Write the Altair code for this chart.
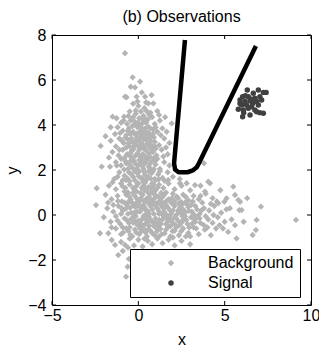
import altair as alt
import pandas as pd

title_text = "(b) Observations"
x_ticks = [-5, 0, 5, 10]
y_ticks = [-4, -2, 0, 2, 4, 6, 8]
classes = ["Background", "Signal"]
class_colors = ["#b4b4b4", "#404040"]
class_shapes = ["diamond", "circle"]

# Background observations (x, y)
bg_upper = [
    (-0.77, 7.19), (-0.33, 6.12), (0.10, 5.93), (-0.44, 5.70), (-0.19, 5.67), (-0.77, 5.26),
    (-0.68, 5.23), (-0.10, 5.26), (0.39, 5.26), (0.77, 5.33), (0.20, 5.45),
    (0.58, 4.96), (0.87, 4.96), (-0.30, 4.95), (0.00, 4.85), (0.35, 4.75), (-0.50, 4.60),
    (0.15, 4.60), (0.70, 4.55), (-0.15, 4.50), (1.10, 4.62), (0.45, 5.00), (-0.05, 5.05),
    (-1.49, 4.37), (-1.26, 4.30), (-0.83, 4.37), (-0.58, 4.40), (-0.30, 4.35), (0.05, 4.30),
    (0.30, 4.40), (0.55, 4.25), (0.80, 4.35), (-1.00, 4.10), (-0.65, 4.05), (-0.20, 4.15),
    (0.20, 4.05), (0.45, 4.10), (0.95, 4.05), (1.25, 4.20), (-0.45, 4.20), (0.65, 4.45),
]
bg_mid_high = [
    (-1.20, 3.90), (-0.90, 3.75), (-0.55, 3.85), (-0.30, 3.70), (-0.05, 3.90), (0.15, 3.75),
    (0.40, 3.85), (0.60, 3.65), (0.85, 3.80), (1.10, 3.70), (1.39, 3.85), (1.64, 3.70),
    (1.93, 4.07), (-1.35, 3.60), (-0.70, 3.55), (-0.15, 3.55), (0.25, 3.60), (0.75, 3.50),
    (1.30, 3.55), (0.05, 3.65), (-0.45, 3.60), (0.50, 3.55),
    (-2.18, 3.07), (-1.60, 3.30), (-1.10, 3.40), (-0.85, 3.20), (-0.60, 3.35), (-0.35, 3.25),
    (-0.10, 3.40), (0.10, 3.20), (0.30, 3.35), (0.50, 3.15), (0.70, 3.30), (0.95, 3.25),
    (1.20, 3.10), (1.50, 3.40), (1.80, 3.20), (-1.30, 3.05), (-0.50, 3.05), (0.00, 3.05),
    (0.35, 3.00), (0.80, 3.05), (-0.20, 3.15), (0.60, 3.45), (0.20, 3.50), (-0.75, 3.45),
    (-1.50, 2.80), (-1.15, 2.65), (-0.90, 2.90), (-0.65, 2.70), (-0.40, 2.85), (-0.15, 2.65),
    (0.05, 2.90), (0.25, 2.70), (0.45, 2.85), (0.65, 2.60), (0.85, 2.80), (1.05, 2.65),
    (1.35, 2.90), (1.70, 2.70), (-0.30, 2.55), (0.15, 2.55), (0.55, 2.50), (-0.80, 2.55),
    (1.00, 2.95), (0.35, 2.95), (-0.05, 2.75), (0.75, 2.90), (-1.00, 2.50),
]
bg_mid_low = [
    (-2.12, 2.15), (-1.64, 2.15), (-1.30, 2.35), (-1.00, 2.20), (-0.75, 2.40), (-0.50, 2.25),
    (-0.25, 2.40), (0.00, 2.20), (0.20, 2.45), (0.40, 2.30), (0.60, 2.15), (0.80, 2.40),
    (1.00, 2.25), (1.25, 2.05), (1.50, 2.35), (-0.60, 2.05), (-0.10, 2.05), (0.30, 2.05),
    (0.90, 2.05), (0.10, 2.30), (0.50, 2.45), (-0.35, 2.10), (1.80, 2.20), (3.80, 2.30),
    (-1.10, 1.90), (-0.80, 1.75), (-0.55, 1.90), (-0.30, 1.70), (-0.05, 1.85), (0.15, 1.65),
    (0.35, 1.90), (0.55, 1.70), (0.75, 1.85), (0.95, 1.60), (1.15, 1.80), (1.40, 1.65),
    (1.70, 1.90), (2.00, 1.70), (-1.40, 1.60), (-0.70, 1.55), (-0.20, 1.55), (0.45, 1.55),
    (1.25, 1.95), (0.05, 1.95), (-0.90, 1.55), (0.85, 1.95), (2.40, 1.60), (1.73, 1.56),
    (-2.41, 1.19), (-1.70, 1.30), (-1.30, 1.15), (-1.00, 1.40), (-0.75, 1.20), (-0.50, 1.35),
    (-0.25, 1.15), (0.00, 1.40), (0.20, 1.20), (0.40, 1.45), (0.60, 1.25), (0.80, 1.40),
    (1.00, 1.10), (1.20, 1.35), (1.45, 1.20), (1.75, 1.40), (2.10, 1.15), (2.50, 1.30),
    (3.00, 1.10), (4.05, 1.48), (4.15, 1.41), (3.60, 1.30), (-0.10, 1.05), (0.50, 1.05),
    (1.60, 1.00), (-0.60, 1.00), (0.30, 1.30), (0.90, 1.20), (-1.50, 1.45), (2.41, 1.41),
    (2.80, 1.41), (3.28, 1.33), (3.86, 1.04), (5.50, 1.26),
]
bg_zero_high = [
    (-1.90, 0.90), (-1.55, 0.70), (-1.20, 0.85), (-0.95, 0.60), (-0.70, 0.90), (-0.45, 0.70),
    (-0.20, 0.85), (0.05, 0.60), (0.25, 0.90), (0.45, 0.70), (0.65, 0.95), (0.85, 0.60),
    (1.05, 0.85), (1.25, 0.65), (1.50, 0.90), (1.75, 0.70), (2.00, 0.95), (2.30, 0.75),
    (2.60, 0.90), (2.90, 0.65), (3.20, 0.85), (3.50, 0.70), (3.90, 0.95), (4.30, 0.75),
    (4.63, 0.52), (4.98, 0.59), (5.60, 0.89), (5.79, 0.67), (0.15, 0.75), (-0.35, 0.55),
    (0.55, 0.55), (1.40, 0.55), (2.10, 0.60), (2.70, 0.55), (-0.80, 0.55), (0.95, 0.75),
    (1.90, 0.55), (5.11, 0.74), (5.89, 0.59),
    (-2.45, 0.44), (-1.80, 0.30), (-1.45, 0.15), (-1.15, 0.40), (-0.90, 0.20), (-0.65, 0.45),
    (-0.40, 0.10), (-0.15, 0.35), (0.10, 0.15), (0.30, 0.45), (0.50, 0.20), (0.70, 0.40),
    (0.90, 0.05), (1.10, 0.30), (1.30, 0.45), (1.50, 0.15), (1.70, 0.35), (1.90, 0.05),
    (2.10, 0.40), (2.30, 0.20), (2.50, 0.45), (2.70, 0.10), (2.90, 0.35), (3.10, 0.15),
    (3.30, 0.40), (3.55, 0.05), (3.80, 0.30), (4.10, 0.20), (4.40, 0.40), (4.80, 0.10),
    (5.85, 0.22), (7.10, 0.37), (5.30, 0.30), (-0.60, 0.05), (0.00, 0.50), (0.80, 0.25),
    (1.20, 0.05), (1.60, 0.45), (2.00, 0.20), (2.60, 0.25), (3.40, 0.25), (-1.00, 0.05),
    (0.40, 0.00), (2.80, 0.48), (5.98, 0.22),
]
bg_zero_low = [
    (-2.00, -0.10), (-1.60, -0.30), (-1.30, -0.05), (-1.05, -0.40), (-0.80, -0.15), (-0.55, -0.35),
    (-0.30, -0.10), (-0.05, -0.45), (0.20, -0.20), (0.40, -0.40), (0.60, -0.05), (0.80, -0.30),
    (1.00, -0.15), (1.20, -0.45), (1.40, -0.20), (1.60, -0.40), (1.80, -0.10), (2.00, -0.35),
    (2.20, -0.15), (2.40, -0.45), (2.60, -0.20), (2.85, -0.40), (3.05, -0.10), (3.30, -0.30),
    (3.55, -0.15), (3.80, -0.45), (4.05, -0.20), (4.30, -0.35), (4.60, -0.10), (5.00, -0.30),
    (5.40, -0.20), (6.85, -0.22), (9.13, -0.22), (0.00, -0.25), (0.50, -0.25), (1.10, -0.35),
    (1.90, -0.25), (2.70, -0.05), (-0.15, -0.05), (0.30, -0.05), (3.90, -0.05),
    (-2.22, -0.81), (-1.74, -0.81), (-1.30, -0.60), (-1.00, -0.85), (-0.70, -0.60), (-0.45, -0.90),
    (-0.20, -0.65), (0.05, -0.85), (0.30, -0.60), (0.50, -0.95), (0.70, -0.70), (0.95, -0.90),
    (1.15, -0.60), (1.35, -0.85), (1.60, -0.65), (1.85, -0.95), (2.10, -0.70), (2.35, -0.90),
    (2.60, -0.60), (2.90, -0.80), (3.20, -0.55), (3.50, -0.85), (3.85, -0.65), (4.20, -0.90),
    (4.50, -0.60), (6.81, -0.67), (6.62, -0.89), (5.20, -0.75), (-0.90, -0.55), (0.20, -0.50),
    (1.00, -0.55), (2.20, -0.55), (2.75, -0.95),
    (-1.54, -1.11), (-1.35, -1.33), (-0.77, -1.33), (-1.00, -1.20), (-0.50, -1.05), (-0.25, -1.35),
    (0.00, -1.10), (0.25, -1.40), (0.55, -1.15), (0.80, -1.30), (1.10, -1.05), (1.40, -1.25),
    (1.75, -1.10), (2.10, -1.35), (2.50, -1.15), (3.00, -1.30), (5.69, -1.04), (-0.60, -1.45),
    (-1.16, -1.78), (-0.71, -2.74), (-0.62, -2.30), (-0.90, -1.60), (-0.55, -1.95),
]
bg_core_vertical = [
    (0.12, 3.95), (0.32, 3.62), (-0.12, 3.32), (0.52, 3.28), (0.18, 2.98), (-0.28, 2.92),
    (0.62, 2.72), (0.08, 2.62), (-0.48, 2.62), (0.42, 2.58), (0.22, 2.18), (-0.18, 2.28),
    (0.68, 2.28), (0.02, 1.72), (0.38, 1.78), (-0.42, 1.82), (0.72, 1.62), (0.28, 1.48),
    (-0.12, 1.28), (0.48, 1.18), (0.12, 0.98), (-0.32, 0.98), (0.78, 1.02), (0.62, 0.82),
    (-0.08, 0.72), (0.34, 0.62), (-0.52, 0.82), (0.92, 0.92), (1.12, 1.22), (1.32, 0.98),
    (-0.62, 1.62), (-0.38, 2.48), (0.88, 2.52), (0.58, 3.92), (-0.22, 4.02), (0.28, 4.22),
    (-0.08, 3.62), (0.72, 3.12), (-0.58, 3.18), (0.98, 2.42), (1.18, 1.58), (-0.82, 2.02),
    (-0.92, 1.28), (1.52, 1.52), (0.45, 3.70), (0.10, 3.45), (-0.40, 3.40), (0.85, 3.60),
    (-0.95, 3.30), (-0.70, 3.00), (-0.45, 2.75), (-0.25, 3.05), (0.00, 3.30), (0.25, 3.15),
    (0.45, 3.45), (0.65, 3.00), (0.90, 3.45), (-0.60, 3.75), (-0.35, 3.95), (0.20, 3.85),
    (0.70, 3.85), (1.00, 3.90), (-0.85, 4.20), (0.00, 4.10), (0.35, 4.30), (-0.15, 4.65),
    (0.50, 4.60), (-1.10, 2.90), (-0.70, 2.30), (-0.45, 2.40), (0.05, 2.45), (0.35, 2.40),
    (0.70, 2.05), (1.10, 2.50), (-0.20, 1.95), (0.25, 1.60), (0.60, 1.95), (-0.50, 1.50),
    (-0.05, 1.40), (0.90, 1.35), (-0.80, 1.05), (0.35, 1.10), (0.70, 1.20), (1.00, 1.55),
    (-0.30, 1.20), (-1.20, 1.70), (-1.25, 2.20), (-1.05, 3.65), (0.95, 3.05), (1.45, 2.60),
    (1.60, 3.00), (-1.70, 2.55), (-1.90, 3.50), (-1.60, 3.90), (1.55, 4.35), (1.20, 4.45),
]
bg_core_horizontal = [
    (-0.72, 0.28), (-0.48, 0.32), (-0.22, 0.12), (0.18, 0.28), (0.42, 0.22), (0.62, 0.08),
    (0.98, 0.42), (1.18, 0.18), (1.42, 0.32), (1.62, 0.02), (1.82, 0.22), (2.02, 0.48),
    (2.22, 0.02), (2.42, 0.32), (2.62, 0.08), (2.92, 0.18), (3.22, 0.02), (-0.68, -0.22),
    (-0.42, -0.18), (-0.18, -0.28), (0.12, -0.38), (0.38, -0.12), (0.68, -0.18), (0.88, -0.48),
    (1.22, -0.22), (1.48, -0.08), (1.72, -0.28), (2.08, -0.12), (2.32, -0.28), (2.52, -0.32),
    (2.78, -0.22), (3.12, -0.38), (3.42, -0.08), (-0.88, -0.78), (-0.58, -0.72), (-0.12, -0.78),
    (0.18, -0.72), (0.42, -0.78), (0.62, -0.48), (0.82, -0.82), (1.08, -0.72), (1.28, -0.62),
    (1.52, -0.82), (1.72, -0.52), (1.98, -0.72), (2.48, -0.72), (-1.18, 0.62), (-0.28, 0.42),
    (0.08, 0.38), (0.72, 0.68), (1.08, 0.52), (1.62, 0.62), (1.38, 0.78), (2.22, 0.82),
    (2.48, 0.58), (3.05, 0.45), (3.70, 0.55), (4.00, -0.55), (3.65, 0.20), (-1.20, -0.25),
    (-0.95, 0.30), (4.55, 0.60), (5.10, 0.25), (3.35, -0.60),
    (-0.50, -0.55), (-0.30, -0.35), (0.10, -0.60), (0.55, -0.65), (0.95, -0.35), (1.30, -0.40),
    (1.65, -0.15), (2.15, -0.45), (2.55, -0.05), (2.95, -0.55), (3.25, -0.20), (3.60, -0.35),
    (-0.55, 0.60), (-0.10, 0.55), (0.35, 0.35), (0.75, 0.50), (1.20, 0.80), (1.55, 0.35),
    (1.95, 0.75), (2.35, 0.50), (2.75, 0.80), (3.15, 0.60), (3.60, 0.85), (4.20, 0.50),
    (4.70, -0.45), (3.00, -0.95), (2.00, -1.00), (1.20, -0.95), (0.35, -1.05), (-0.35, -0.95),
    (-1.45, 0.45), (-1.55, -0.55), (-1.75, 0.55), (-0.05, 0.15), (0.60, -0.30), (1.35, 0.05),
    (1.85, -0.50), (2.45, 0.10), (4.35, 0.00), (4.90, -0.60), (5.60, -0.45), (6.10, -0.30),
    (6.30, 0.75), (4.75, 1.10),
]

# Signal observations
sig_x = [6.31, 6.66, 6.95, 7.24, 6.04, 6.37, 6.75, 7.04, 5.89, 6.18, 6.47, 6.85, 7.14, 5.98,
         6.27, 6.56, 6.95, 5.79, 6.08, 6.37, 6.75, 7.04, 7.24, 6.04, 6.47, 6.85, 5.89, 6.62,
         6.20, 6.55, 7.40, 6.10]
sig_y = [5.56, 5.41, 5.56, 5.45, 5.26, 5.26, 5.19, 5.26, 5.11, 5.04, 5.08, 5.04, 5.11, 4.89,
         4.89, 4.81, 4.89, 4.70, 4.67, 4.74, 4.67, 4.55, 4.52, 4.37, 4.44, 4.59, 4.96, 4.96,
         5.30, 5.15, 5.45, 4.55]

# Decision boundary
bnd_x = [2.70, 2.07, 2.13, 2.33, 2.85, 3.15, 3.38, 3.51, 6.81]
bnd_y = [7.78, 2.30, 2.02, 1.90, 1.90, 1.98, 2.12, 2.30, 7.51]

bg = bg_upper + bg_mid_high + bg_mid_low + bg_zero_high + bg_zero_low + bg_core_vertical + bg_core_horizontal
df_pts = pd.DataFrame({
    "x": [p[0] for p in bg] + sig_x,
    "y": [p[1] for p in bg] + sig_y,
    "cls": [classes[0]] * len(bg) + [classes[1]] * len(sig_x),
})
df_bnd = pd.DataFrame({"x": bnd_x, "y": bnd_y, "i": list(range(len(bnd_x)))})
df_xt = pd.DataFrame({"x": x_ticks})
df_yt = pd.DataFrame({"y": y_ticks})

W, H = 259, 270
FONT = "Liberation Sans"
xscale = alt.Scale(domain=[-5, 10], nice=False, zero=False)
yscale = alt.Scale(domain=[-4, 8], nice=False, zero=False)

leg = alt.Legend(title=None, orient="none", legendX=78, legendY=214,
                 labelExpr="datum.label + '\u00a0\u00a0\u00a0'")

pts = alt.Chart(df_pts).mark_point(filled=True, opacity=1, strokeWidth=0).encode(
    x=alt.X("x:Q", scale=xscale, axis=alt.Axis(values=x_ticks, title="x")),
    y=alt.Y("y:Q", scale=yscale, axis=alt.Axis(values=y_ticks, title="y")),
    shape=alt.Shape("cls:N", scale=alt.Scale(domain=classes, range=class_shapes), legend=leg),
    color=alt.Color("cls:N", scale=alt.Scale(domain=classes, range=class_colors), legend=leg),
    size=alt.Size("cls:N", scale=alt.Scale(domain=classes, range=[40, 30]), legend=None),
)

line = alt.Chart(df_bnd).mark_line(color="black", strokeWidth=4.5, strokeJoin="round").encode(
    x=alt.X("x:Q", scale=xscale), y=alt.Y("y:Q", scale=yscale), order="i:Q"
)

tb = alt.Chart(df_xt).mark_rule(color="black").encode(x=alt.X("x:Q", scale=xscale), y=alt.value(H), y2=alt.value(H - 4))
tt = alt.Chart(df_xt).mark_rule(color="black").encode(x=alt.X("x:Q", scale=xscale), y=alt.value(0), y2=alt.value(4))
tl = alt.Chart(df_yt).mark_rule(color="black").encode(y=alt.Y("y:Q", scale=yscale), x=alt.value(0), x2=alt.value(4))
tr = alt.Chart(df_yt).mark_rule(color="black").encode(y=alt.Y("y:Q", scale=yscale), x=alt.value(W), x2=alt.value(W - 4))

chart = alt.layer(pts, line, tb, tt, tl, tr).properties(
    width=W, height=H,
    title=alt.TitleParams(title_text, fontSize=16, font=FONT, fontWeight="normal", offset=2,
                          anchor="middle", color="black", frame="group"),
    autosize=alt.AutoSizeParams(type="none"),
    padding={"left": 44, "top": 27, "right": 8, "bottom": 45},
).configure_view(
    stroke="black", strokeWidth=1
).configure_axis(
    domain=False, ticks=False, grid=False, labelFlush=False,
    labelFont=FONT, labelFontSize=16, labelColor="black",
    titleFont=FONT, titleFontSize=16, titleFontWeight="normal", titleColor="black",
).configure_axisX(
    labelPadding=2, titlePadding=8
).configure_axisY(
    labelPadding=6, titlePadding=7
).configure_legend(
    fillColor="white", strokeColor="black", padding=6, rowPadding=4,
    symbolOffset=27, labelOffset=29, labelFont=FONT, labelFontSize=16, labelColor="black",
    symbolSize=25, symbolStrokeWidth=0,
)

chart.save("out.html", embed_options={"renderer": "svg", "actions": False})
